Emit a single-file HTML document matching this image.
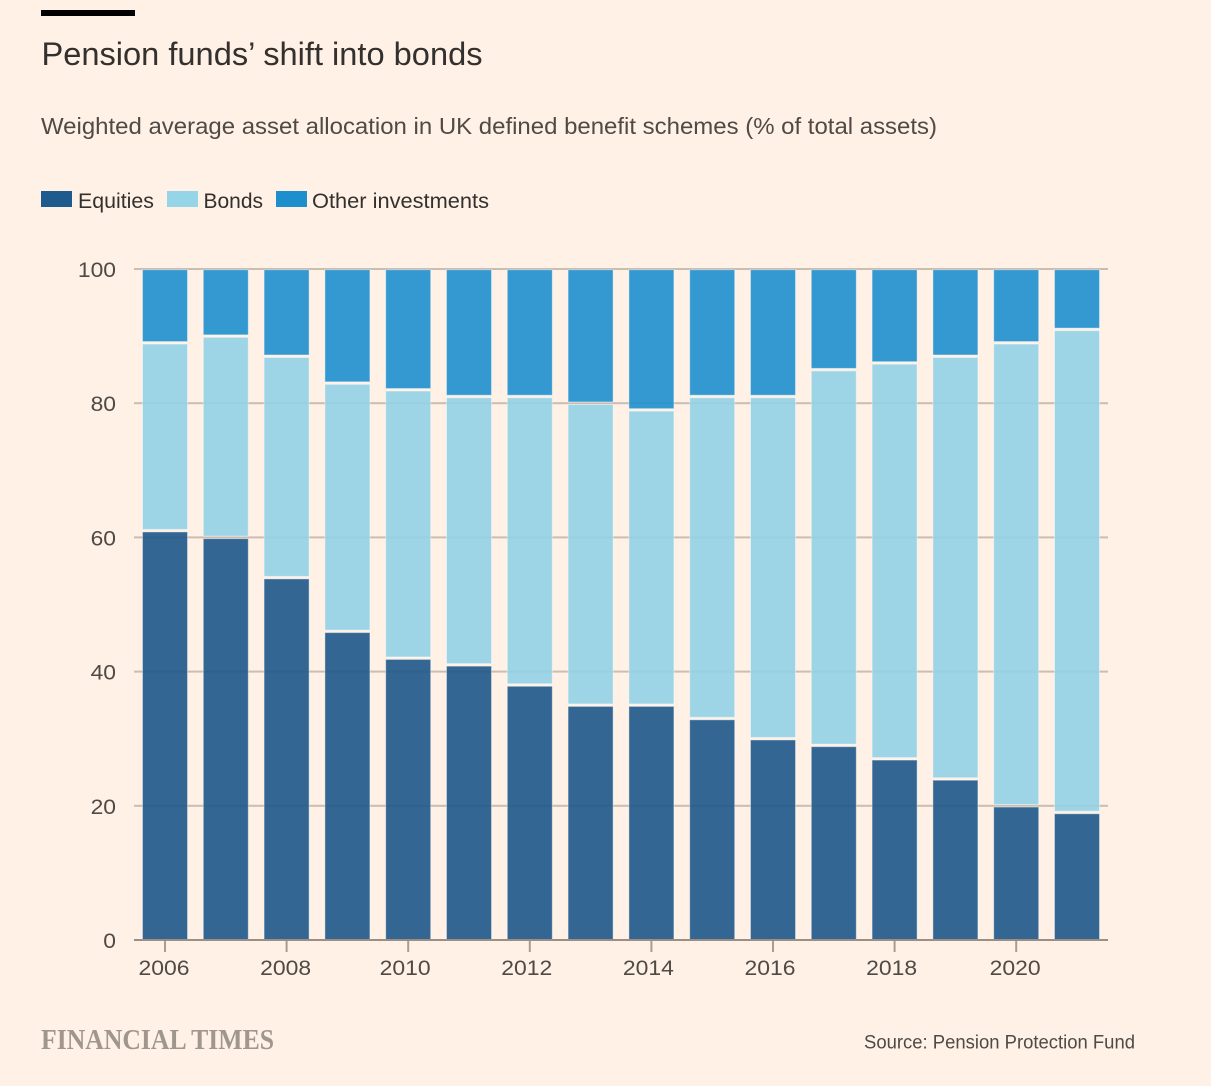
<!DOCTYPE html>
<html lang="en">
<head>
<meta charset="utf-8">
<title>Pension funds' shift into bonds</title>
<style>
html,body{margin:0;padding:0;background:#fff1e5;}
svg{display:block;font-family:"Liberation Sans",sans-serif;}
</style>
</head>
<body>
<svg id="chart" width="1211" height="1086" viewBox="0 0 1211 1086" xmlns="http://www.w3.org/2000/svg">
  <rect x="0" y="0" width="1211" height="1086" fill="#fff1e5"/>
  <rect x="41" y="10" width="94" height="6" fill="#000"/>
  <text x="41.5" y="65" font-size="32" fill="#33302e" textLength="441" lengthAdjust="spacingAndGlyphs">Pension funds’ shift into bonds</text>
  <text x="41" y="134" font-size="23.5" fill="#4f4a46" textLength="896" lengthAdjust="spacingAndGlyphs">Weighted average asset allocation in UK defined benefit schemes (% of total assets)</text>
  <g>
    <rect x="41" y="191" width="31" height="16" fill="#1f5a8e"/>
    <text x="78" y="208" font-size="21" fill="#33302e" textLength="76" lengthAdjust="spacingAndGlyphs">Equities</text>
    <rect x="167" y="191" width="31" height="16" fill="#96d4e8"/>
    <text x="203.5" y="208" font-size="21" fill="#33302e" textLength="59.5" lengthAdjust="spacingAndGlyphs">Bonds</text>
    <rect x="276" y="191" width="31" height="16" fill="#1e8fcd"/>
    <text x="312" y="208" font-size="21" fill="#33302e" textLength="177" lengthAdjust="spacingAndGlyphs">Other investments</text>
  </g>
  <g id="grid"></g>
  <g id="bars"></g>
  <g id="xaxis"></g>
  <g id="yaxis"></g>
  <text x="41" y="1049" font-family="'Liberation Serif',serif" font-weight="700" font-size="28" fill="#a0978c" textLength="233" lengthAdjust="spacingAndGlyphs">FINANCIAL TIMES</text>
  <text x="864" y="1048.5" font-size="19.5" fill="#4f4a46" textLength="271" lengthAdjust="spacingAndGlyphs">Source: Pension Protection Fund</text>
</svg>
<script>
const years = [2006, 2007, 2008, 2009, 2010, 2011, 2012, 2013, 2014, 2015, 2016, 2017, 2018, 2019, 2020, 2021];
const equities = [61, 60, 54, 46, 42, 41, 38, 35, 35, 33, 30, 29, 27, 24, 20, 19];
const bonds = [28, 30, 33, 37, 40, 40, 43, 45, 44, 48, 51, 56, 59, 63, 69, 72];
const other = [11, 10, 13, 17, 18, 19, 19, 20, 21, 19, 19, 15, 14, 13, 11, 9];
const yTicks = [0, 20, 40, 60, 80, 100];
const xTicks = [2006, 2008, 2010, 2012, 2014, 2016, 2018, 2020];

const NS = 'http://www.w3.org/2000/svg';
const plotLeft = 134, plotRight = 1108, plotTop = 269, plotBottom = 940;
const firstCentre = 165, lastCentre = 1077, barWidth = 46;
const digitWidth = 12.7, xLabelWidth = 51;
const xScale = function (yr) {
  return firstCentre + (yr - years[0]) * (lastCentre - firstCentre) / (years[years.length - 1] - years[0]);
};
const yScale = function (v) {
  return plotBottom - v * (plotBottom - plotTop) / 100;
};
function make(tag, attrs, parent, txt) {
  const el = document.createElementNS(NS, tag);
  for (const k in attrs) el.setAttribute(k, attrs[k]);
  if (txt !== undefined) el.textContent = txt;
  parent.appendChild(el);
  return el;
}
const grid = document.getElementById('grid');
const barsG = document.getElementById('bars');
const xaxis = document.getElementById('xaxis');
const yaxis = document.getElementById('yaxis');

yTicks.forEach(function (t) {
  if (t !== 0) {
    const gl = make('rect', {x: plotLeft, y: yScale(t) - 1, width: plotRight - plotLeft, height: 2, fill: '#cabdb1'}, grid);
    
    
  }
  const s = String(t);
  const w = digitWidth * s.length;
  const lab = make('text', {x: 116 - w, y: yScale(t) + 8, 'font-size': 21, fill: '#4f4a46', textLength: w, lengthAdjust: 'spacingAndGlyphs'}, yaxis, s);
  
  
});

const seriesList = [
  {key: 'equities', vals: equities, fill: '#1e568a'},
  {key: 'bonds', vals: bonds, fill: '#93d1e5'},
  {key: 'other', vals: other, fill: '#1e8fcd'}
];
years.forEach(function (yr, i) {
  let base = 0;
  seriesList.forEach(function (s) {
    const v = s.vals[i];
    const yTop = yScale(base + v);
    const yBot = yScale(base);
    const insetTop = (base + v >= 100) ? 0.75 : 1.25;
    const insetBottom = (base === 0) ? 0.5 : 1.25;
    const r = make('rect', {
      x: xScale(yr) - barWidth / 2 + 0.5,
      y: yTop + insetTop,
      width: barWidth - 1,
      height: yBot - yTop - insetTop - insetBottom,
      fill: s.fill,
      'fill-opacity': 0.9,
      stroke: '#ffffff',
      'stroke-opacity': 0.4,
      'stroke-width': 1
    }, barsG);
    
    
    base += v;
  });
});

const axisLine = make('rect', {x: plotLeft, y: plotBottom - 1, width: plotRight - plotLeft, height: 2, fill: '#9b8f85'}, xaxis);


xTicks.forEach(function (yr) {
  const tick = make('rect', {x: xScale(yr) - 1, y: plotBottom + 1, width: 2, height: 11, fill: '#a89d93'}, xaxis);
  
  
  const s = String(yr);
  const shift = s.indexOf('1') >= 0 ? -3 : -1;
  const lab = make('text', {x: xScale(yr) + shift - xLabelWidth / 2, y: 975, 'font-size': 21, fill: '#4f4a46', textLength: xLabelWidth, lengthAdjust: 'spacingAndGlyphs'}, xaxis, s);
  
  
});
</script>
</body>
</html>
